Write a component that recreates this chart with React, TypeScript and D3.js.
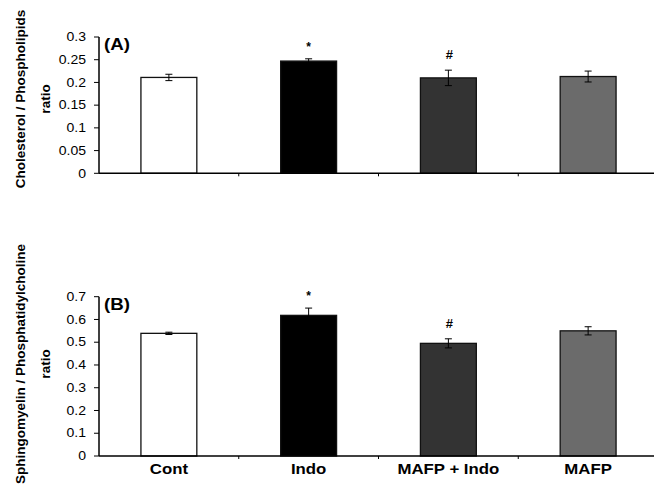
import React from "react";
import * as d3 from "d3";

const categories = ["Cont", "Indo", "MAFP + Indo", "MAFP"];
const colors = ["#ffffff", "#000000", "#333333", "#6b6b6b"];
const valuesA = [0.211, 0.247, 0.21, 0.213];
const errorsA = [0.007, 0.005, 0.017, 0.012];
const marksA = ["", "*", "#", ""];
const ticksA = [0, 0.05, 0.1, 0.15, 0.2, 0.25, 0.3];
const tickLabelsA = ["0", "0.05", "0.1", "0.15", "0.2", "0.25", "0.3"];
const valuesB = [0.539, 0.618, 0.495, 0.55];
const errorsB = [0.005, 0.032, 0.02, 0.018];
const marksB = ["", "*", "#", ""];
const ticksB = [0, 0.1, 0.2, 0.3, 0.4, 0.5, 0.6, 0.7];
const tickLabelsB = ["0", "0.1", "0.2", "0.3", "0.4", "0.5", "0.6", "0.7"];

const FONT = "'Liberation Sans', Arial, sans-serif";

type PanelProps = {
  values: number[];
  errors: number[];
  marks: string[];
  ticks: number[];
  tickLabels: string[];
  yMax: number;
  top: number;
  bottom: number;
  tag: string;
  title: string;
  titleY: number;
  showLabels: boolean;
};

function Panel(p: PanelProps) {
  const x = d3.scaleBand<string>().domain(categories).range([99, 658]).paddingInner(0).paddingOuter(0);
  const y = d3.scaleLinear().domain([0, p.yMax]).range([p.bottom, p.top]);
  const bw = x.bandwidth() * 0.4;
  const cap = 3.5;
  return (
    <g>
      {categories.map((c, i) => {
        const cx = (x(c) as number) + x.bandwidth() / 2;
        const hi = y(p.values[i] + p.errors[i]);
        const lo = y(p.values[i] - p.errors[i]);
        const isHash = p.marks[i] === "#";
        return (
          <g key={c}>
            <rect
              x={cx - bw / 2}
              y={y(p.values[i])}
              width={bw}
              height={p.bottom - y(p.values[i])}
              fill={colors[i]}
              stroke="#111"
              strokeWidth={1.3}
            />
            <line x1={cx} x2={cx} y1={hi} y2={lo} stroke="#000" strokeWidth={1} />
            <line x1={cx - cap} x2={cx + cap} y1={hi} y2={hi} stroke="#000" strokeWidth={1} />
            <line x1={cx - cap} x2={cx + cap} y1={lo} y2={lo} stroke="#000" strokeWidth={1} />
            {p.marks[i] && (
              <text
                x={cx + (isHash ? 1 : 0)}
                y={hi - (isHash ? 11 : 8)}
                textAnchor="middle"
                fontFamily={FONT}
                fontWeight="bold"
                fontSize={isHash ? 13 : 12}
              >
                {p.marks[i]}
              </text>
            )}
            {p.showLabels && (
              <text
                transform={`translate(${cx},${p.bottom + 17.5}) scale(1.12,1)`}
                textAnchor="middle"
                fontFamily={FONT}
                fontWeight="bold"
                fontSize={15}
              >
                {c}
              </text>
            )}
          </g>
        );
      })}
      <line x1={99} x2={658} y1={p.bottom} y2={p.bottom} stroke="#000" strokeWidth={1.5} />
      {categories.slice(1).map((c) => (
        <line key={c} x1={x(c) as number} x2={x(c) as number} y1={p.bottom} y2={p.bottom + 3} stroke="#000" strokeWidth={1} />
      ))}
      <line x1={99} x2={99} y1={y(p.yMax)} y2={p.bottom} stroke="#000" strokeWidth={1.5} />
      {p.ticks.map((t, i) => (
        <g key={t}>
          <line x1={94} x2={99} y1={y(t)} y2={y(t)} stroke="#000" strokeWidth={1} />
          <text
            transform={`translate(86,${y(t)}) scale(1.17,1)`}
            dy="0.35em"
            textAnchor="end"
            fontFamily={FONT}
            fontSize={12}
          >
            {p.tickLabels[i]}
          </text>
        </g>
      ))}
      <text
        transform={`translate(104,${y(p.yMax) + 13}) scale(1.17,1)`}
        fontFamily={FONT}
        fontWeight="bold"
        fontSize={16}
      >
        {p.tag}
      </text>
      <g transform={`translate(0, ${p.titleY}) rotate(-90)`}>
        <text x={0} y={24.5} textAnchor="middle" fontFamily={FONT} fontWeight="bold" fontSize={13.5}>
          {p.title}
        </text>
        <text x={0} y={49.5} textAnchor="middle" fontFamily={FONT} fontWeight="bold" fontSize={13.5}>
          ratio
        </text>
      </g>
    </g>
  );
}

export default function App() {
  return (
    <svg width={654} height={501} style={{ position: "absolute", left: 0, top: 0, background: "#fff" }}>
      <rect width={654} height={501} fill="#fff" />
      <Panel
        values={valuesA}
        errors={errorsA}
        marks={marksA}
        ticks={ticksA}
        tickLabels={tickLabelsA}
        yMax={0.3}
        top={37}
        bottom={173.3}
        tag="(A)"
        title="Cholesterol / Phospholipids"
        titleY={99}
        showLabels={false}
      />
      <Panel
        values={valuesB}
        errors={errorsB}
        marks={marksB}
        ticks={ticksB}
        tickLabels={tickLabelsB}
        yMax={0.7}
        top={296.7}
        bottom={456}
        tag="(B)"
        title="Sphingomyelin / Phosphatidylcholine"
        titleY={364}
        showLabels={true}
      />
    </svg>
  );
}
